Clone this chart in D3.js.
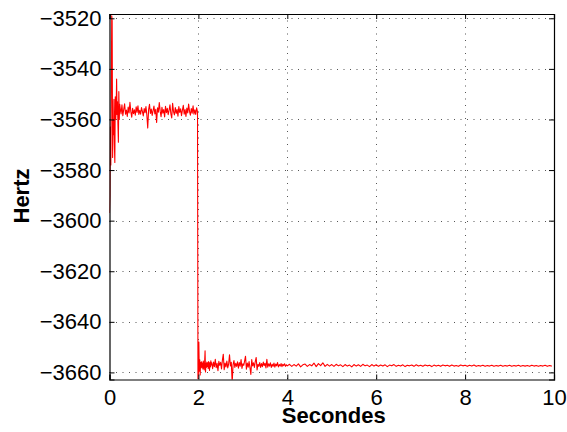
<!DOCTYPE html>
<html><head><meta charset="utf-8">
<script src="https://cdn.jsdelivr.net/npm/d3@7/dist/d3.min.js"></script>
<style>
html,body{margin:0;padding:0;background:#fff;}
svg{display:block;font-family:"Liberation Sans",Arial,Helvetica,sans-serif;}
</style></head>
<body><svg id="c" width="567" height="432"></svg>
<script>
// Segments of the recorded trace: start time (s), sampling step (s), values (Hz)
const segAStart = 0.00, segAStep = 0.01;
const segAValues = [-3597,-3590,-3563,-3578,-3550,-3519,-3521,-3575,-3560,-3566,-3552,-3570,-3577,-3551,-3560,-3556,-3544,-3558,-3553,-3562,-3569,-3549,-3560,-3554];

const segBStart = 0.24, segBStep = 0.02;
const segBValues = [-3555.5,-3557.8,-3554.2,-3558.5,-3556.0,-3553.8,-3557.9,-3556.3,-3558.8,-3555.1,
-3557.4,-3553.2,-3556.9,-3559.1,-3555.6,-3557.7,-3556.2,-3558.3,-3555.0,-3557.2,
-3554.6,-3558.0,-3556.4,-3557.9,-3555.3,-3556.8,-3558.6,-3555.7,-3557.3,-3554.9,
-3558.2,-3563.4,-3556.1,-3554.0,-3557.6,-3555.9,-3558.4,-3556.5,-3554.7,-3557.8,
-3556.0,-3561.2,-3555.4,-3557.1,-3553.3,-3556.7,-3558.9,-3555.2,-3557.5,-3556.1,
-3559.0,-3554.8,-3557.3,-3555.6,-3558.1,-3556.4,-3554.2,-3557.7,-3559.4,-3553.6,
-3556.9,-3558.2,-3555.3,-3557.6,-3556.0,-3558.7,-3554.9,-3557.2,-3555.8,-3558.5,
-3556.3,-3554.4,-3557.9,-3556.1,-3558.8,-3555.5,-3557.4,-3553.9,-3556.8,-3558.3,
-3555.7,-3557.5,-3554.6,-3557.9,-3556.2,-3558.0,-3555.4,-3557.0];

const segCStart = 1.99, segCStep = 0.01;
const segCValues = [-3662.5,-3660.5,-3648.0,-3659.5,-3655.0,-3661.0,-3656.0,-3658.2,-3655.8,-3657.9,
-3656.3,-3658.6,-3655.5,-3657.4,-3659.0,-3656.0,-3651.5,-3659.8,-3656.5,-3658.0,
-3655.9,-3657.6,-3656.2,-3658.4,-3655.7,-3657.3,-3659.2,-3656.1,-3657.8,-3655.4,-3657.0];

const segDStart = 2.30, segDStep = 0.02;
const segDValues = [-3656.2,-3658.5,-3655.9,-3657.7,-3654.8,-3658.1,-3656.4,-3659.3,-3655.6,-3657.2,
-3656.0,-3658.6,-3655.1,-3652.8,-3658.9,-3656.3,-3657.8,-3655.5,-3658.2,-3656.7,
-3653.0,-3657.4,-3656.0,-3664.0,-3656.9,-3655.3,-3658.0,-3656.4,-3657.6,-3655.8,
-3658.3,-3656.1,-3657.5,-3654.9,-3658.4,-3656.6,-3657.2,-3655.4,-3653.6,-3658.7,
-3656.3,-3657.9,-3655.7,-3658.1,-3660.8,-3654.9,-3657.4,-3656.2,-3658.0,-3655.6,
-3654.1,-3659.0,-3656.8,-3657.6,-3656.1,-3658.0,-3656.5,-3657.7,-3655.9,-3657.3,
-3656.4,-3658.2,-3654.8,-3657.9,-3656.6,-3657.5,-3656.2,-3658.0,-3656.8,-3657.6,
-3656.3,-3657.9,-3656.7,-3657.4,-3656.1,-3657.8,-3656.9,-3657.5,-3656.5,-3657.7,
-3656.8,-3657.3,-3656.6,-3657.6,-3657.0,-3657.4];

const segEStart = 4.05, segEStep = 0.05;
const segEValues = [-3656.8,-3657.6,-3656.9,-3657.5,-3656.6,-3657.8,-3657.0,-3656.7,-3657.6,-3656.9,
-3657.4,-3656.3,-3657.7,-3656.5,-3657.3,-3656.2,-3657.6,-3656.8,-3657.5,-3656.9,
-3657.6,-3656.8,-3657.4,-3657.0,-3657.7,-3656.9,-3657.5,-3657.1,-3657.8,-3656.9,
-3657.5,-3657.0,-3657.6,-3656.8,-3657.4,-3657.1,-3657.7,-3656.9,-3657.5,-3657.0,
-3657.6,-3657.1,-3657.5,-3657.0,-3657.7,-3657.1,-3657.4,-3656.9,-3657.6,-3657.2,
-3657.5,-3657.0,-3657.7,-3657.2,-3657.4,-3657.1,-3657.6,-3657.0,-3657.5,-3657.2,
-3657.6,-3657.1,-3657.4,-3657.2,-3657.7,-3657.1,-3657.5,-3657.2,-3657.6,-3657.1,
-3657.4,-3657.2,-3657.6,-3657.1,-3657.5,-3657.3,-3657.6,-3657.1,-3657.4,-3657.2,
-3657.6,-3657.2,-3657.5,-3657.1,-3657.6,-3657.3,-3657.5,-3657.2,-3657.6,-3657.3,
-3657.5,-3657.2,-3657.6,-3657.3,-3657.5,-3657.2,-3657.6,-3657.3,-3657.5,-3657.2,
-3657.6,-3657.3,-3657.5,-3657.2,-3657.6,-3657.3,-3657.5,-3657.3,-3657.6,-3657.2,
-3657.5,-3657.3,-3657.6,-3657.3,-3657.5,-3657.2,-3657.6,-3657.3,-3657.5];

const xTicks = [0,2,4,6,8,10];
const yTicks = [-3660,-3640,-3620,-3600,-3580,-3560,-3540,-3520];
const xLabel = "Secondes";
const yLabel = "Hertz";

const segments = [
  [segAStart, segAStep, segAValues],
  [segBStart, segBStep, segBValues],
  [segCStart, segCStep, segCValues],
  [segDStart, segDStep, segDValues],
  [segEStart, segEStep, segEValues]
];
const data = [];
segments.forEach(([t0, dt, vals]) => vals.forEach((v, i) => data.push([t0 + i * dt, v])));

const W = 567, H = 432;
const L = 109.5, R = 554, T = 14, B = 379.5;
const svg = d3.select("#c");
const x = d3.scaleLinear().domain([0, 10]).range([L, R]);
const y = d3.scaleLinear().domain([-3662.8, -3518.3]).range([B, T]);

svg.append("rect").attr("x",0).attr("y",0).attr("width",W).attr("height",H).attr("fill","#fff");

// grid
const grid = svg.append("g").attr("stroke","#555").attr("stroke-width",1).attr("stroke-dasharray","1,5.5");
xTicks.slice(1,-1).forEach(t => grid.append("line").attr("x1",Math.round(x(t))+0.5).attr("x2",Math.round(x(t))+0.5).attr("y1",T).attr("y2",B));
yTicks.forEach(t => grid.append("line").attr("y1",Math.round(y(t))+0.5).attr("y2",Math.round(y(t))+0.5).attr("x1",L).attr("x2",R));

// clip
svg.append("clipPath").attr("id","clip").append("rect").attr("x",L).attr("y",T).attr("width",R-L).attr("height",B-T);

svg.append("path").datum(data)
  .attr("clip-path","url(#clip)")
  .attr("fill","none").attr("stroke","#ff0000").attr("stroke-width",1.1).attr("stroke-linejoin","round")
  .attr("d", d3.line().x(d => x(d[0])).y(d => y(d[1])));

// axes (inward ticks on all sides)
const fmt = d3.format("d");
const axB = svg.append("g").attr("transform",`translate(0,${B})`).call(d3.axisBottom(x).tickValues(xTicks).tickSize(-5).tickPadding(10).tickFormat(fmt));
const axT = svg.append("g").attr("transform",`translate(0,${T})`).call(d3.axisTop(x).tickValues(xTicks).tickSize(-5).tickFormat(""));
const axL = svg.append("g").attr("transform",`translate(${L},0)`).call(d3.axisLeft(y).tickValues(yTicks).tickSize(-5).tickPadding(8).tickFormat(fmt));
const axR = svg.append("g").attr("transform",`translate(${R},0)`).call(d3.axisRight(y).tickValues(yTicks).tickSize(-5).tickFormat(""));
[axB,axT,axL,axR].forEach(a => {
  a.select(".domain").attr("stroke","#000").attr("stroke-width",1.2);
  a.selectAll(".tick line").attr("stroke","#000");
  a.selectAll("text").attr("font-family","'Liberation Sans',Arial,sans-serif").attr("font-size",22).attr("fill","#000");
});
axB.selectAll(".tick text").attr("dy","0.71em");

svg.append("text").attr("x",(L+R)/2 + 2).attr("y",423).attr("text-anchor","middle")
  .attr("font-size",22).attr("font-weight","bold").text(xLabel);
svg.append("text").attr("transform",`translate(29,196) rotate(-90)`).attr("text-anchor","middle")
  .attr("font-size",22).attr("font-weight","bold").text(yLabel);
</script></body></html>
